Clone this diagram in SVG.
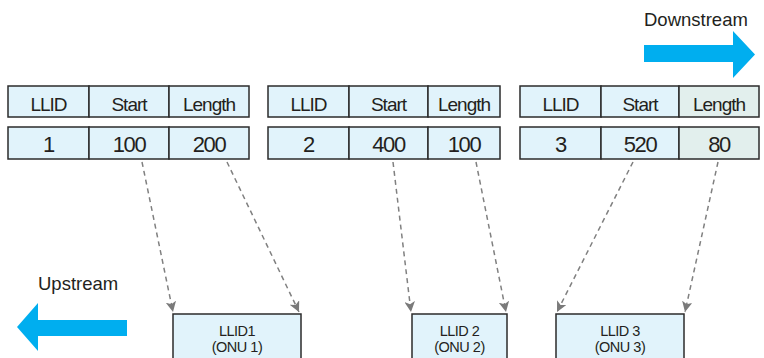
<svg xmlns="http://www.w3.org/2000/svg" width="764" height="358" viewBox="0 0 764 358">
  <style>
    .cell { fill: #e1f3fb; stroke: #2b2b2b; stroke-width: 1.5; }
    .cell-alt { fill: #e2efed; stroke: #2b2b2b; stroke-width: 1.5; }
    .t { font-family: "Liberation Sans", Arial, sans-serif; font-size: 19px; fill: #231f20; text-anchor: middle; letter-spacing: -1px; }
    .n { font-family: "Liberation Sans", Arial, sans-serif; font-size: 22px; fill: #231f20; text-anchor: middle; letter-spacing: -1.4px; }
    .lbl { font-family: "Liberation Sans", Arial, sans-serif; font-size: 18.5px; fill: #231f20; }
    .onu { fill: #e1f3fb; stroke: #2b2b2b; stroke-width: 1.5; }
    .ot { font-family: "Liberation Sans", Arial, sans-serif; font-size: 14.5px; fill: #231f20; text-anchor: middle; letter-spacing: -0.5px; }
    .link { stroke: #808080; stroke-width: 1.5; stroke-dasharray: 5 4; fill: none; marker-end: url(#head); }
    .flow { fill: #00aeef; }
  </style>
  <defs>
    <marker id="head" viewBox="0 0 10 10" refX="10" refY="5" markerWidth="7" markerHeight="7" orient="auto" markerUnits="strokeWidth">
      <path d="M0,0 L10,5 L0,10 L2.5,5 Z" fill="#7a7a7a"/>
    </marker>
  </defs>

  <!-- Direction arrows -->
  <g id="downstream">
    <text class="lbl" x="644" y="26">Downstream</text>
    <polygon class="flow" points="644,45 733,45 733,31 755,54.5 733,78 733,62 644,62"/>
  </g>
  <g id="upstream">
    <text class="lbl" x="38" y="290">Upstream</text>
    <polygon class="flow" points="127,320 38,320 38,303 17,327 38,351 38,336 127,336"/>
  </g>

  <!-- Grant table 1 -->
  <g id="grant1">
    <rect class="cell" x="8" y="86" width="81" height="31"/>
    <rect class="cell" x="89" y="86" width="80" height="31"/>
    <rect class="cell" x="169" y="86" width="80" height="31"/>
    <rect class="cell" x="8" y="127" width="81" height="32"/>
    <rect class="cell" x="89" y="127" width="80" height="32"/>
    <rect class="cell" x="169" y="127" width="80" height="32"/>
    <text class="t" x="48.5" y="111">LLID</text>
    <text class="t" x="129" y="111">Start</text>
    <text class="t" x="209" y="111">Length</text>
    <text class="n" x="48.5" y="152">1</text>
    <text class="n" x="129" y="152">100</text>
    <text class="n" x="209" y="152">200</text>
  </g>

  <!-- Grant table 2 -->
  <g id="grant2">
    <rect class="cell" x="268" y="86" width="81" height="31"/>
    <rect class="cell" x="349" y="86" width="79" height="31"/>
    <rect class="cell" x="428" y="86" width="72" height="31"/>
    <rect class="cell" x="268" y="127" width="81" height="32"/>
    <rect class="cell" x="349" y="127" width="79" height="32"/>
    <rect class="cell" x="428" y="127" width="72" height="32"/>
    <text class="t" x="308.5" y="111">LLID</text>
    <text class="t" x="388.5" y="111">Start</text>
    <text class="t" x="464" y="111">Length</text>
    <text class="n" x="308.5" y="152">2</text>
    <text class="n" x="388.5" y="152">400</text>
    <text class="n" x="464" y="152">100</text>
  </g>

  <!-- Grant table 3 -->
  <g id="grant3">
    <rect class="cell" x="520" y="86" width="81" height="31"/>
    <rect class="cell" x="601" y="86" width="78" height="31"/>
    <rect class="cell-alt" x="679" y="86" width="80" height="31"/>
    <rect class="cell" x="520" y="127" width="81" height="32"/>
    <rect class="cell" x="601" y="127" width="78" height="32"/>
    <rect class="cell-alt" x="679" y="127" width="80" height="32"/>
    <text class="t" x="560.5" y="111">LLID</text>
    <text class="t" x="640" y="111">Start</text>
    <text class="t" x="719" y="111">Length</text>
    <text class="n" x="560.5" y="152">3</text>
    <text class="n" x="640" y="152">520</text>
    <text class="n" x="719" y="152">80</text>
  </g>

  <!-- ONU slots -->
  <g id="onu1">
    <rect class="onu" x="173" y="314" width="128" height="50"/>
    <text class="ot" x="237" y="336">LLID1</text>
    <text class="ot" x="237" y="352">(ONU 1)</text>
  </g>
  <g id="onu2">
    <rect class="onu" x="412" y="314" width="95" height="50"/>
    <text class="ot" x="459.5" y="336">LLID 2</text>
    <text class="ot" x="459.5" y="352">(ONU 2)</text>
  </g>
  <g id="onu3">
    <rect class="onu" x="556" y="314" width="128" height="50"/>
    <text class="ot" x="620" y="336">LLID 3</text>
    <text class="ot" x="620" y="352">(ONU 3)</text>
  </g>

  <!-- Connectors -->
  <g id="connectors">
    <line class="link" x1="142" y1="162" x2="173" y2="312"/>
    <line class="link" x1="227" y1="162" x2="299" y2="312"/>
    <line class="link" x1="393" y1="162" x2="411" y2="312"/>
    <line class="link" x1="476" y1="162" x2="506" y2="312"/>
    <line class="link" x1="633" y1="162" x2="557" y2="312"/>
    <line class="link" x1="718" y1="162" x2="685" y2="312"/>
  </g>
</svg>
